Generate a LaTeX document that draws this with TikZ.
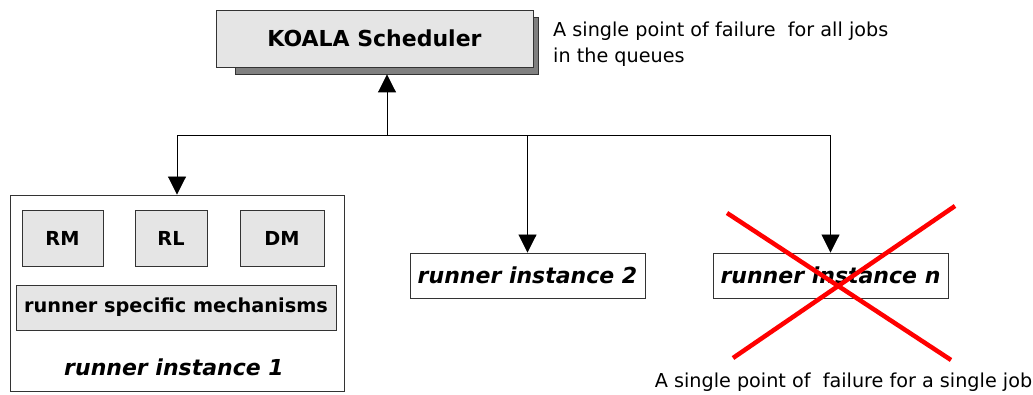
\documentclass[tikz,border=0pt]{standalone}
\usepackage{fontspec}
\setmainfont{DejaVu Sans}
\usetikzlibrary{arrows.meta}
\begin{document}
\begin{tikzpicture}[x=1pt,y=-1pt,
  box/.style={draw=black!80,line width=0.9pt,inner sep=0pt},
  graybox/.style={box,fill=black!10},
  conn/.style={line width=0.9pt,-{Triangle[length=18pt,width=18pt]}},
  note/.style={font=\fontsize{19.2}{26}\selectfont,inner sep=0pt},
  small/.style={font=\fontsize{19.3}{22}\bfseries\selectfont},
  big/.style={font=\fontsize{22}{26}\bfseries\selectfont},
  bigit/.style={font=\fontsize{22}{26}\bfseries\itshape\selectfont},
  cross/.style={draw=red,line width=4.5pt}]
\useasboundingbox (0,0) rectangle (1033,395);
% KOALA scheduler
\node[box,fill=black!50,minimum width=303pt,minimum height=57pt] (shadow) at (386.5,45.5) {};
\node[graybox,big,minimum width=317pt,minimum height=57pt] (koala) at (374.5,38.5) {KOALA Scheduler};
\node[note,anchor=north west,align=left] (n1) at (553,22) {A single point of failure\ \ for all jobs\\in the queues};
% runner instance 1
\node[box,minimum width=334pt,minimum height=196pt] (r1) at (177,293) {};
\node[graybox,small,minimum width=81pt,minimum height=56pt] (rm) at (62.5,238) {RM};
\node[graybox,small,minimum width=72pt,minimum height=56pt] (rl) at (171,238) {RL};
\node[graybox,small,minimum width=84pt,minimum height=56pt] (dm) at (282,238) {DM};
\node[graybox,small,minimum width=320pt,minimum height=45pt] (rsm) at (176,307.5) {runner specific mechanisms};
\node[inner sep=0pt,bigit] (r1l) at (174,367) {runner instance 1};
% runner instance 2 and n
\node[box,bigit,minimum width=235pt,minimum height=45pt] (r2) at (527.5,275.5) {runner instance 2};
\node[box,bigit,minimum width=235pt,minimum height=45pt] (rn) at (830.5,275.5) {runner instance n};
% connectors
\coordinate (j) at (387,135);
\draw[conn] (j) -- (j |- shadow.south);
\draw[conn] (j) -| (r1.north);
\draw[conn] (j) -| (r2.north);
\draw[conn] (j) -| (rn.north);
% red cross
\coordinate (c1) at (727,213);
\coordinate (c2) at (951,360);
\coordinate (c3) at (955,206);
\coordinate (c4) at (733,358);
\draw[cross] (c1) -- (c2);
\draw[cross] (c3) -- (c4);
\node[note,anchor=base] (n2) at (843.5,387) {A single point of\ \ failure for a single job};
\end{tikzpicture}
\end{document}
